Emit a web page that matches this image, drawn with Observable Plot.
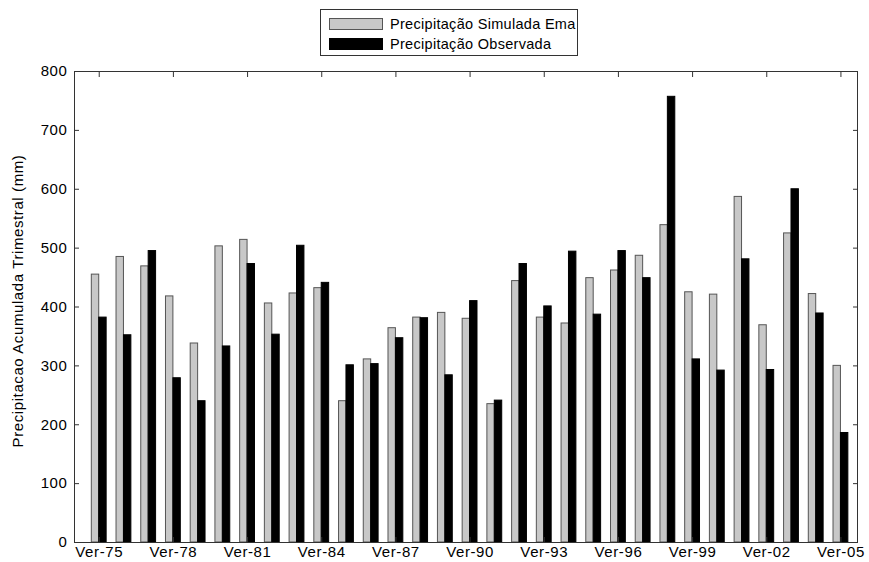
<!DOCTYPE html>
<html>
<head>
<meta charset="utf-8">
<script src="https://cdn.jsdelivr.net/npm/d3@7"></script>
<script src="https://cdn.jsdelivr.net/npm/@observablehq/plot@0.6"></script>
<style>
  body { margin: 0; background: #fff; }
  #wrap { position: relative; width: 869px; height: 562px; font-family: "Liberation Sans", Arial, sans-serif; }
  #legend { position: absolute; left: 320px; top: 9px; width: 258px; height: 47px; border: 1px solid #333; background: #fff; box-sizing: border-box; }
  .row { position: absolute; left: 8px; height: 16px; display: flex; align-items: center; font-size: 14.5px; letter-spacing: 0.3px; color: #000; white-space: nowrap; }
  .sw { width: 54px; height: 12px; margin-right: 7px; box-sizing: border-box; }
</style>
</head>
<body>
<div id="wrap">
  <div id="chart"></div>
  <div id="legend">
    <div class="row" style="top:6px"><div class="sw" style="background:#c8c8c8;border:1px solid #555"></div><span id="l1"></span></div>
    <div class="row" style="top:26px"><div class="sw" style="background:#000;border:1px solid #000"></div><span id="l2"></span></div>
  </div>
</div>
<script>
const years = d3.range(1975, 2006);
const simulada = [455, 485, 469, 418, 338, 503, 514, 406, 423, 432, 240, 311, 364, 382, 390, 380, 235, 444, 382, 372, 449, 462, 487, 539, 425, 421, 587, 369, 525, 422, 300];
const observada = [382, 352, 495, 279, 240, 333, 473, 353, 504, 441, 301, 303, 347, 381, 284, 410, 241, 473, 401, 494, 387, 495, 449, 757, 311, 292, 481, 293, 600, 389, 186];
const xTicks = [1975, 1978, 1981, 1984, 1987, 1990, 1993, 1996, 1999, 2002, 2005];
const yTicks = [0, 100, 200, 300, 400, 500, 600, 700, 800];
const seriesNames = ["Precipitação Simulada Ema", "Precipitação Observada"];
const yLabel = "Precipitacao Acumulada Trimestral (mm)";

document.getElementById("l1").textContent = seriesNames[0];
document.getElementById("l2").textContent = seriesNames[1];

const barW = 0.3;
const simData = years.map((y, i) => ({year: y, value: simulada[i]}));
const obsData = years.map((y, i) => ({year: y, value: observada[i]}));
const fmt = d => "Ver-" + String(d).slice(2);

const chart = Plot.plot({
  width: 869,
  height: 562,
  marginLeft: 74,
  marginRight: 12,
  marginTop: 71,
  marginBottom: 20,
  style: {fontFamily: "'Liberation Sans', Arial, sans-serif", fontSize: "15px", letterSpacing: "0.6px", color: "#000", background: "#fff"},
  x: {type: "linear", domain: [1974, 2005.67], axis: null},
  y: {domain: [0, 800], axis: null},
  marks: [
    Plot.rectY(simData, {x1: d => d.year - barW, x2: d => d.year, y1: 0, y2: "value", fill: "#c8c8c8", stroke: "#555", strokeWidth: 1}),
    Plot.rectY(obsData, {x1: d => d.year, x2: d => d.year + barW, y1: 0, y2: "value", fill: "#000", stroke: "#000", strokeWidth: 1}),
    Plot.frame({stroke: "#333"}),
    Plot.axisY(yTicks, {anchor: "left", tickSize: -5, tickFormat: () => "", label: null, stroke: "#333"}),
    Plot.axisY(yTicks, {anchor: "left", tickSize: 0, tickPadding: 7, label: null}),
    Plot.axisY(yTicks, {anchor: "right", tickSize: -5, tickFormat: () => "", label: null, stroke: "#333"}),
    Plot.axisX(xTicks, {anchor: "top", tickSize: -5, tickFormat: () => "", label: null, stroke: "#333"}),
    Plot.axisX(xTicks, {anchor: "bottom", tickSize: -5, tickPadding: 9, tickFormat: fmt, label: null, stroke: "#333"}),
    Plot.text([yLabel], {frameAnchor: "left", textAnchor: "middle", dx: -56, dy: -6, rotate: -90, fontSize: 15, text: d => d, fill: "#000"})
  ]
});
document.getElementById("chart").appendChild(chart);
</script>
</body>
</html>
